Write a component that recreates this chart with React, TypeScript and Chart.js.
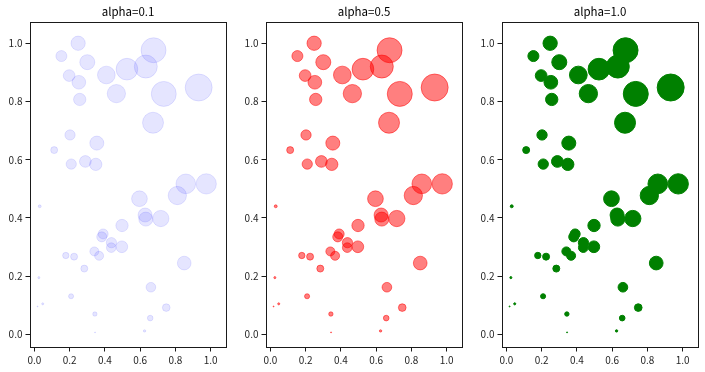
import React, { useEffect, useRef } from "react";
import { Chart, registerables } from "chart.js";

Chart.register(...registerables);

// data (same points in every panel)
const xs = [0.248, 0.153, 0.300, 0.197, 0.252, 0.257, 0.408, 0.465, 0.525, 0.632, 0.676, 0.734, 0.932, 0.673, 0.202, 0.112, 0.354, 0.209, 0.289, 0.348, 0.030, 0.596, 0.811, 0.859, 0.975, 0.628, 0.632, 0.717, 0.497, 0.390, 0.382, 0.437, 0.436, 0.496, 0.340, 0.367, 0.178, 0.225, 0.283, 0.850, 0.025, 0.661, 0.208, 0.018, 0.047, 0.343, 0.748, 0.657, 0.625, 0.344];
const ys = [1.000, 0.956, 0.935, 0.889, 0.866, 0.807, 0.891, 0.827, 0.911, 0.920, 0.976, 0.826, 0.848, 0.727, 0.685, 0.633, 0.657, 0.585, 0.594, 0.584, 0.440, 0.466, 0.477, 0.517, 0.517, 0.410, 0.396, 0.398, 0.374, 0.345, 0.335, 0.315, 0.298, 0.301, 0.285, 0.270, 0.271, 0.267, 0.226, 0.245, 0.195, 0.162, 0.131, 0.096, 0.105, 0.070, 0.092, 0.056, 0.012, 0.007];
// marker areas (points^2)
const sizes = [121, 75, 133, 84, 112, 92, 181, 193, 267, 299, 350, 350, 406, 251, 66, 33, 117, 66, 84, 92, 8, 145, 193, 222, 235, 117, 117, 155, 92, 63, 63, 66, 59, 84, 52, 52, 28, 33, 33, 112, 5, 59, 19, 2, 5, 15, 39, 23, 6, 2];

const titles = ["alpha=0.1", "alpha=0.5", "alpha=1.0"];
const alphas = [0.1, 0.5, 1.0];
const colors = ["0,0,255", "255,0,0", "0,128,0"];
const tickValues = [0, 0.2, 0.4, 0.6, 0.8, 1.0];

const FONT = "'Noto Sans CJK KR', 'Noto Sans', sans-serif";

function Panel({ index, left }: { index: number; left: number }) {
  const ref = useRef<HTMLCanvasElement>(null);
  useEffect(() => {
    const canvas = ref.current!;
    const data = xs.map((x, i) => ({ x, y: ys[i], r: Math.max(Math.sqrt(sizes[i]) / 0.72 / 2 - 0.5, 0.5) }));
    const framePlugin = {
      id: "frame",
      afterDraw(chart: any) {
        const { ctx, chartArea } = chart;
        ctx.save();
        ctx.strokeStyle = "#1a1a1a";
        ctx.lineWidth = 1;
        const l = Math.round(chartArea.left) + 0.5;
        const t = Math.round(chartArea.top) + 0.5;
        const r = Math.round(chartArea.right) - 0.5;
        const b = Math.round(chartArea.bottom) - 0.5;
        ctx.strokeRect(l, t, r - l, b - t);
        ctx.fillStyle = "#000";
        ctx.font = `11.5px ${FONT}`;
        ctx.textAlign = "center";
        ctx.textBaseline = "middle";
        ctx.fillText(titles[index], (chartArea.left + chartArea.right) / 2, 12);
        ctx.restore();
      },
    };
    const tickCfg = {
      color: "#262626",
      font: { family: FONT, size: 10 },
      padding: 3,
      callback: (v: any) => Number(v).toFixed(1),
    };
    const gridCfg = { drawOnChartArea: false, drawTicks: true, tickLength: 4, tickColor: "#1a1a1a", lineWidth: 1 };
    const fill = `rgba(${colors[index]},${alphas[index]})`;
    const chart = new Chart(canvas, {
      type: "bubble",
      data: { datasets: [{ data, backgroundColor: fill, borderColor: fill, borderWidth: 1 }] },
      options: {
        animation: false,
        responsive: false,
        maintainAspectRatio: false,
        devicePixelRatio: 1,
        layout: { padding: { left: 0, right: 0, top: 22, bottom: 0 } },
        plugins: { legend: { display: false }, tooltip: { enabled: false }, title: { display: false } },
        scales: {
          x: {
            type: "linear", min: -0.028, max: 1.09, grid: gridCfg, border: { display: false }, ticks: tickCfg,
            afterBuildTicks: (s: any) => { s.ticks = tickValues.map((v) => ({ value: v })); },
            afterFit: (s: any) => { s.height = 24.5; },
          },
          y: {
            type: "linear", min: -0.045, max: 1.073, grid: gridCfg, border: { display: false }, ticks: tickCfg,
            afterBuildTicks: (s: any) => { s.ticks = tickValues.map((v) => ({ value: v })); },
            afterFit: (s: any) => { s.width = 29.5; },
          },
        },
      } as any,
      plugins: [framePlugin],
    });
    return () => chart.destroy();
  }, [index]);
  return <canvas ref={ref} width={241} height={372} style={{ position: "absolute", left, top: 0, width: 241, height: 372 }} />;
}

export default function App() {
  return (
    <div style={{ position: "fixed", left: 0, top: 0, width: 705, height: 372, background: "#fff", overflow: "hidden" }}>
      <Panel index={0} left={0} />
      <Panel index={1} left={236} />
      <Panel index={2} left={472} />
    </div>
  );
}
